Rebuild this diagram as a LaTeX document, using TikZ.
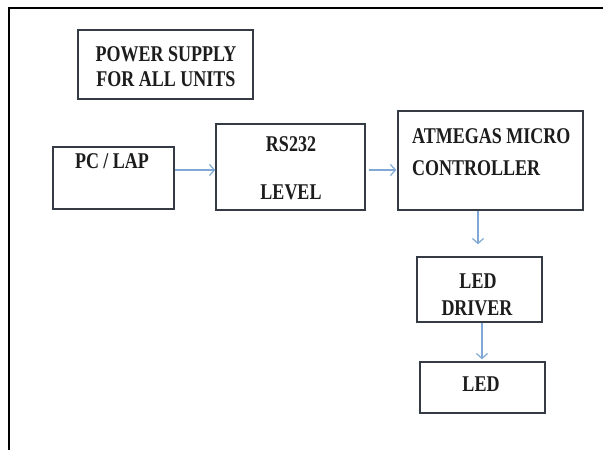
\documentclass[tikz,border=0pt]{standalone}
\usepackage{fontspec}
\setmainfont{Liberation Serif}[FakeStretch=0.8]
\usetikzlibrary{arrows.meta}
\definecolor{boxline}{HTML}{353B45}
\definecolor{arrowblue}{HTML}{7FA8D4}
\definecolor{textc}{HTML}{1C1C1C}
\tikzset{
  blk/.style={draw=boxline, line width=1.4pt, rectangle, inner sep=0pt, fill=white},
  lbl/.style={inner sep=0pt, text=textc, font=\fontsize{22.5}{26}\selectfont\bfseries},
  arr/.style={draw=arrowblue, line width=1.2pt, -{Straight Barb[length=5pt,width=11pt,line width=1.2pt]}},
}
\begin{document}
\begin{tikzpicture}[x=1pt,y=-1pt]
\useasboundingbox (0,0) rectangle (603,450);
\fill[white] (0,0) rectangle (603,450);
% frame
\draw[line width=2.8pt,black] (9,450) -- (9,8) -- (603,8);
% boxes
\node[blk, minimum width=175pt, minimum height=69pt] (pwr) at (165.5,64.5) {};
\node[blk, minimum width=121pt, minimum height=62pt] (pc) at (113.5,178) {};
\node[blk, minimum width=149pt, minimum height=86pt] (rs) at (290.5,167) {};
\node[blk, minimum width=185pt, minimum height=99pt] (at) at (490.5,160.5) {};
\node[blk, minimum width=125pt, minimum height=65pt] (drv) at (479.5,289.5) {};
\node[blk, minimum width=125pt, minimum height=51pt] (led) at (482.5,387.5) {};
% texts
\node[lbl, anchor=base] (t1) at (166,61) {POWER SUPPLY};
\node[lbl, anchor=base] (t2) at (166,86) {FOR ALL UNITS};
\node[lbl, anchor=base] (t3) at (112,168) {PC / LAP};
\node[lbl, anchor=base] (t4) at (291,151) {RS232};
\node[lbl, anchor=base] (t5) at (291,199) {LEVEL};
\node[lbl, anchor=base west] (t6) at (412,143) {ATMEGAS MICRO};
\node[lbl, anchor=base west] (t7) at (412,175) {CONTROLLER};
\node[lbl, anchor=base] (t8) at (478,288) {LED};
\node[lbl, anchor=base] (t9) at (477,315) {DRIVER};
\node[lbl, anchor=base] (t10) at (481,391) {LED};
% connectors
\draw[arr] ([yshift=8pt]pc.east) -- ([yshift=-3pt]rs.west);
\draw[arr] ([xshift=3pt,yshift=-3pt]rs.east) -- ([xshift=-1pt,yshift=-9.5pt]at.west);
\draw[arr] ([xshift=-12.5pt]at.south) -- ([xshift=-1.5pt,yshift=12pt]drv.north);
\draw[arr] ([xshift=2.5pt]drv.south) -- ([xshift=-0.5pt,yshift=2pt]led.north);
\end{tikzpicture}
\end{document}
